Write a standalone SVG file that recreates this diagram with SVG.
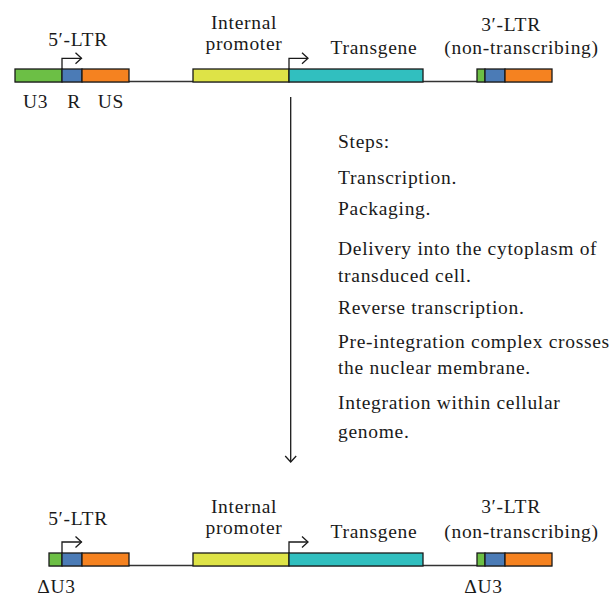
<svg xmlns="http://www.w3.org/2000/svg" width="611" height="598" viewBox="0 0 611 598">
<style>
text{font-family:"Liberation Serif","Times New Roman",serif;font-size:19.5px;letter-spacing:0.7px;fill:#1a1a1a}
.m{text-anchor:middle}
.box{stroke:#1a1a1a;stroke-width:1.3}
.g{fill:#6cbf45}.b{fill:#4b7bb6}.o{fill:#f58220}.y{fill:#dee347}.t{fill:#31bfbf}
.ln{stroke:#333;stroke-width:1.6;fill:none}
.arr{stroke:#1a1a1a;stroke-width:1.3;fill:none}
</style>
<defs>
<marker id="chev" markerUnits="userSpaceOnUse" markerWidth="16" markerHeight="16" viewBox="-8 -8 16 16" refX="0" refY="0" orient="auto">
<path d="M-6,-5.5 L0,0 L-6,5.5" fill="none" stroke="#1a1a1a" stroke-width="1.3"/>
</marker>
</defs>

<g id="top-construct">
<line class="ln" x1="15" y1="81.5" x2="552" y2="81.5"/>
<g id="top-5ltr">
<rect class="box g" x="15" y="69" width="47" height="13"/>
<rect class="box b" x="62" y="69" width="20" height="13"/>
<rect class="box o" x="82" y="69" width="47" height="13"/>
<path class="arr" d="M62,69 V58.3 H81.5" marker-end="url(#chev)"/>
<text class="m" x="78" y="46">5′-LTR</text>
<text class="m" x="35.5" y="108">U3</text>
<text class="m" x="74" y="108">R</text>
<text class="m" x="111" y="108">US</text>
</g>
<g id="top-promoter">
<rect class="box y" x="193" y="69" width="96" height="13"/>
<text class="m" x="244" y="29">Internal</text>
<text class="m" x="244" y="50">promoter</text>
</g>
<g id="top-transgene">
<rect class="box t" x="289" y="69" width="134" height="13"/>
<path class="arr" d="M289,69 V58.3 H308" marker-end="url(#chev)"/>
<text class="m" x="374" y="54">Transgene</text>
</g>
<g id="top-3ltr">
<rect class="box g" x="477" y="69" width="8" height="13"/>
<rect class="box b" x="485" y="69" width="20" height="13"/>
<rect class="box o" x="505" y="69" width="47" height="13"/>
<text class="m" x="511" y="31">3′-LTR</text>
<text class="m" x="521.5" y="54">(non-transcribing)</text>
</g>
</g>

<g id="connectors">
<line class="arr" x1="290.7" y1="97" x2="290.7" y2="462" marker-end="url(#chev)"/>
</g>

<g id="steps">
<text x="338" y="148">Steps:</text>
<text x="338" y="184">Transcription.</text>
<text x="338" y="215">Packaging.</text>
<text x="338" y="255">Delivery into the cytoplasm of</text>
<text x="338" y="282">transduced cell.</text>
<text x="338" y="314">Reverse transcription.</text>
<text x="338" y="348">Pre-integration complex crosses</text>
<text x="338" y="374">the nuclear membrane.</text>
<text x="338" y="409">Integration within cellular</text>
<text x="338" y="438">genome.</text>
</g>

<g id="bottom-construct">
<line class="ln" x1="49" y1="565.5" x2="552" y2="565.5"/>
<g id="bottom-5ltr">
<rect class="box g" x="49" y="553" width="13" height="13"/>
<rect class="box b" x="62" y="553" width="20" height="13"/>
<rect class="box o" x="82" y="553" width="47" height="13"/>
<path class="arr" d="M62,553 V542 H81.5" marker-end="url(#chev)"/>
<text class="m" x="78" y="525">5′-LTR</text>
<text class="m" x="56.5" y="593">ΔU3</text>
</g>
<g id="bottom-promoter">
<rect class="box y" x="193" y="553" width="96" height="13"/>
<text class="m" x="244" y="513">Internal</text>
<text class="m" x="244" y="534">promoter</text>
</g>
<g id="bottom-transgene">
<rect class="box t" x="289" y="553" width="134" height="13"/>
<path class="arr" d="M289,553 V542 H308" marker-end="url(#chev)"/>
<text class="m" x="374" y="538">Transgene</text>
</g>
<g id="bottom-3ltr">
<rect class="box g" x="477" y="553" width="8" height="13"/>
<rect class="box b" x="485" y="553" width="20" height="13"/>
<rect class="box o" x="505" y="553" width="47" height="13"/>
<text class="m" x="511" y="513">3′-LTR</text>
<text class="m" x="521.5" y="538">(non-transcribing)</text>
<text class="m" x="483.5" y="593">ΔU3</text>
</g>
</g>
</svg>
